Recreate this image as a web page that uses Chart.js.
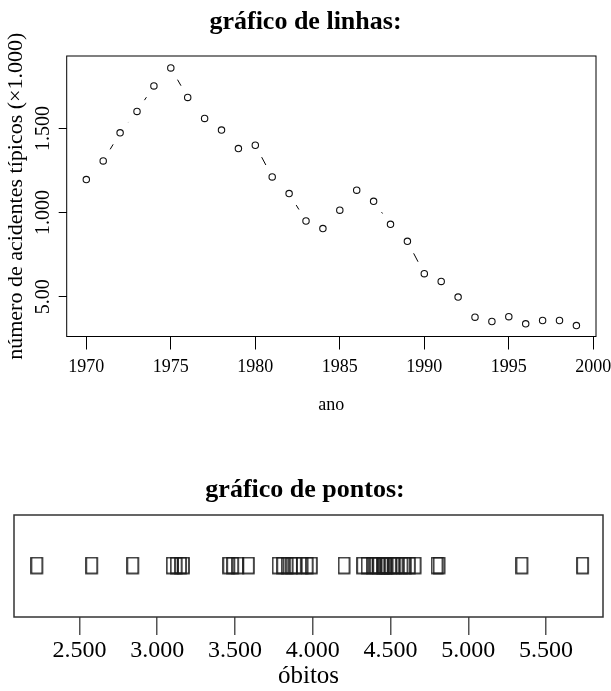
<!DOCTYPE html>
<html>
<head>
<meta charset="utf-8">
<script src="https://cdn.jsdelivr.net/npm/chart.js@4.4.0/dist/chart.umd.min.js"></script>
<style>
  body { margin: 0; background: #fff; }
  canvas { position: absolute; left: 0; }
  #lineChart { top: 0; }
  #dotChart { top: 420px; }
</style>
</head>
<body>
<canvas id="lineChart" width="611" height="420"></canvas>
<canvas id="dotChart" width="611" height="271"></canvas>
<script>
// dados do gráfico de linhas
const anos = [1970, 1971, 1972, 1973, 1974, 1975, 1976, 1977, 1978, 1979,
              1980, 1981, 1982, 1983, 1984, 1985, 1986, 1987, 1988, 1989,
              1990, 1991, 1992, 1993, 1994, 1995, 1996, 1997, 1998, 1999];
const acidentes = [1196, 1307, 1474, 1601, 1752, 1859, 1684, 1559, 1490, 1380,
                   1400, 1212, 1113, 950, 905, 1014, 1133, 1067, 930, 829,
                   637, 591, 498, 379, 353, 382, 339, 359, 359, 329];
const anoTicks = [1970, 1975, 1980, 1985, 1990, 1995, 2000];
const acidTicks = [500, 1000, 1500];
const acidTickLabels = ['5.00', '1.000', '1.500'];

// dados do gráfico de pontos
const obitos = [2229, 2582, 2846, 3099, 3125, 3153, 3172, 3463, 3488, 3521,
                3589, 3780, 3810, 3838, 3866, 3891, 3934, 3967, 3994, 4204,
                4324, 4352, 4384, 4406, 4427, 4449, 4459, 4470, 4481, 4502,
                4523, 4545, 4577, 4598, 4624, 4661, 4802, 4815, 5348, 5738];
const obitosTicks = [2500, 3000, 3500, 4000, 4500, 5000, 5500];
const obitosTickLabels = ['2.500', '3.000', '3.500', '4.000', '4.500', '5.000', '5.500'];

const serif = '"Liberation Serif", "DejaVu Serif", serif';
Chart.defaults.font.family = serif;
Chart.defaults.color = '#000';

// moldura em volta da area do grafico
const boxPlugin = {
    id: 'box',
    afterDraw(chart, args, opts) {
        const a = chart.chartArea;
        const ctx = chart.ctx;
        ctx.save();
        ctx.strokeStyle = opts.color;
        ctx.lineWidth = opts.width;
        ctx.strokeRect(a.left, a.top, a.right - a.left, a.bottom - a.top);
        ctx.restore();
    }
};

// tipo "b": segmentos com folga em volta de cada ponto
const GAP = 13.5;
function gapDash(ctx) {
    const d = Math.hypot(ctx.p1.x - ctx.p0.x, ctx.p1.y - ctx.p0.y);
    return d > 2 * GAP ? [0, GAP, d - 2 * GAP, 1000] : [0, 1000];
}

// eixo vazio so para reservar margem
const spacer = w => ({
    display: true,
    afterFit: s => { s.width = w; s.paddingTop = 0; s.paddingBottom = 0; },
    ticks: { display: false },
    grid: { display: false },
    border: { display: false }
});

const ctxLine = document.getElementById('lineChart');
new Chart(ctxLine, {
    type: 'scatter',
    data: {
        datasets: [{
            data: anos.map((a, i) => ({ x: a, y: acidentes[i] })),
            showLine: true,
            borderColor: '#000',
            borderWidth: 1,
            pointRadius: 3.2,
            pointBorderWidth: 1.1,
            pointBorderColor: '#111',
            pointBackgroundColor: 'rgba(0,0,0,0)',
            segment: { borderDash: gapDash }
        }]
    },
    options: {
        responsive: false,
        animation: false,
        layout: { padding: 0 },
        plugins: {
            legend: { display: false },
            tooltip: { enabled: false },
            title: {
                display: true,
                text: 'gráfico de linhas:',
                color: '#000',
                font: { size: 26, weight: 'bold' },
                padding: { top: 6.6, bottom: 18.2 }
            },
            box: { color: '#000', width: 1 }
        },
        scales: {
            x: {
                type: 'linear',
                min: 1968.84,
                max: 2000.16,
                afterBuildTicks: s => { s.ticks = anoTicks.map(v => ({ value: v })); },
                afterFit: s => { s.height = 83.5; s.paddingLeft = 0; s.paddingRight = 0; },
                ticks: { font: { size: 18 }, padding: 7, maxRotation: 0, callback: v => String(v) },
                grid: { drawOnChartArea: false, tickLength: 13, color: '#000' },
                border: { display: false },
                title: { display: true, text: 'ano', font: { size: 18 }, padding: { top: 0, bottom: 3.5 } }
            },
            y: {
                min: 264,
                max: 1930,
                afterBuildTicks: s => { s.ticks = acidTicks.map(v => ({ value: v })); },
                afterFit: s => { s.width = 66.7; s.paddingTop = 0; s.paddingBottom = 0; },
                ticks: {
                    font: { size: 20 },
                    minRotation: 90,
                    maxRotation: 90,
                    crossAlign: 'center',
                    padding: -8,
                    callback: (v, i) => acidTickLabels[i]
                },
                grid: { drawOnChartArea: false, tickLength: 8, color: '#000' },
                border: { display: false },
                title: {
                    display: true,
                    text: 'número de acidentes típicos (×1.000)',
                    font: { size: 22 },
                    padding: { top: 2.7, bottom: 0 }
                }
            },
            margemDireita: { position: 'right', ...spacer(15) }
        }
    },
    plugins: [boxPlugin]
});

// marcador retangular do grafico de pontos
const rectMarker = document.createElement('canvas');
rectMarker.width = 14;
rectMarker.height = 19;
const mctx = rectMarker.getContext('2d');
mctx.strokeStyle = '#1a1a1a';
mctx.lineWidth = 1.6;
mctx.strokeRect(1, 1, 11, 16);

const ctxDot = document.getElementById('dotChart');
new Chart(ctxDot, {
    type: 'scatter',
    data: {
        datasets: [{
            data: obitos.map(v => ({ x: v, y: 1 })),
            pointStyle: rectMarker,
            pointRadius: 7,
            clip: false
        }]
    },
    options: {
        responsive: false,
        animation: false,
        layout: { padding: { left: 7, right: 8, top: 0, bottom: 0 } },
        plugins: {
            legend: { display: false },
            tooltip: { enabled: false },
            title: {
                display: true,
                text: 'gráfico de pontos:',
                color: '#000',
                font: { size: 26, weight: 'bold' },
                padding: { top: 54.6, bottom: 9.2 }
            },
            box: { color: '#333', width: 1.5 }
        },
        scales: {
            x: {
                type: 'linear',
                min: 2079,
                max: 5866,
                afterBuildTicks: s => { s.ticks = obitosTicks.map(v => ({ value: v })); },
                afterFit: s => { s.height = 74; s.paddingLeft = 0; s.paddingRight = 0; },
                ticks: { font: { size: 24 }, padding: 1.5, maxRotation: 0, callback: (v, i) => obitosTickLabels[i] },
                grid: { drawOnChartArea: false, tickLength: 18, color: '#555', lineWidth: 1.5 },
                border: { display: false },
                title: { display: true, text: 'óbitos', font: { size: 25 }, padding: { top: 0, bottom: 0 } }
            },
            y: { min: 0, max: 2, ...spacer(7) }
        }
    },
    plugins: [boxPlugin]
});
</script>
</body>
</html>
